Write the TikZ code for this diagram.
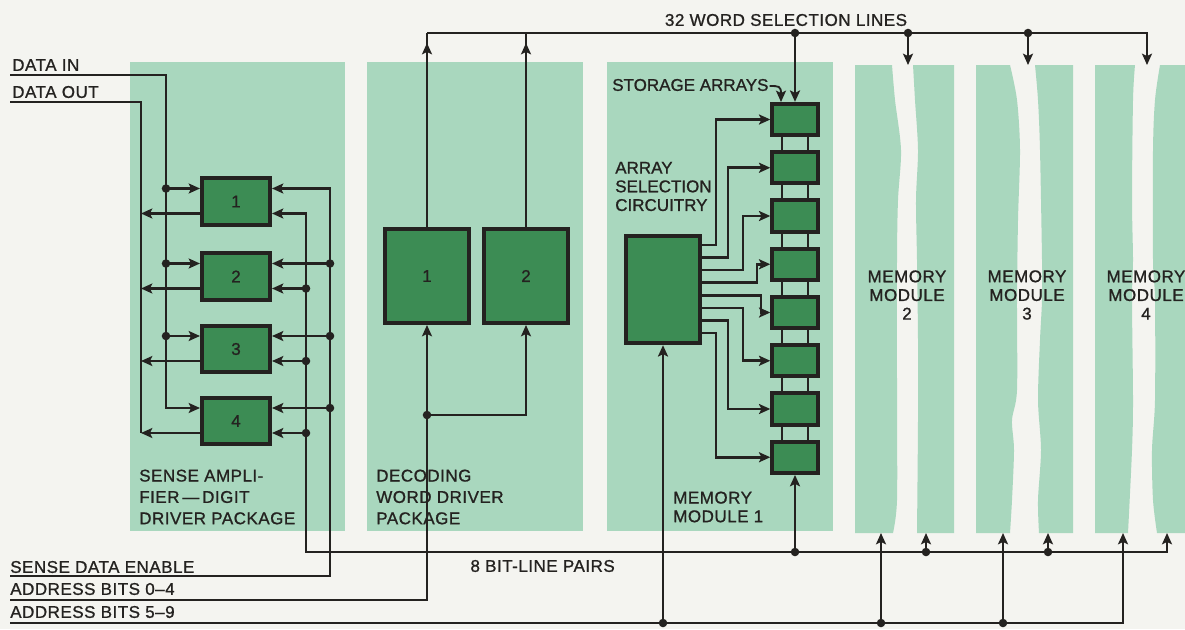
\documentclass[tikz,border=0pt]{standalone}
\usepackage{fontspec}
\setmainfont{Liberation Sans}[LetterSpace=3,FakeBold=1.0]
\usetikzlibrary{arrows.meta,calc}
\definecolor{bgc}{RGB}{244,244,240}
\definecolor{panel}{RGB}{169,215,190}
\definecolor{boxg}{RGB}{60,140,84}
\definecolor{ink}{RGB}{36,34,32}
\newcommand\lbfont{\fontsize{12.75}{14}\selectfont}
\newcommand\plfont{\fontsize{12.75}{16}\selectfont}
\newcommand\junc[1]{\fill[ink] (#1) circle (3.2pt);}
\tikzset{
  wire/.style={draw=ink,line width=2pt},
  blk/.style={draw=ink,fill=boxg,line width=3pt,inner sep=0pt,text=ink,font=\lbfont},
  sabox/.style={blk,minimum width=51pt,minimum height=35pt},
  dbox/.style={blk,minimum width=62.5pt,minimum height=70.5pt},
  ascbox/.style={blk,minimum width=55.5pt,minimum height=80.5pt},
  arbox/.style={blk,minimum width=34pt,minimum height=23.5pt},
  lbl/.style={text=ink,inner sep=0pt,font=\lbfont},
  mlbl/.style={lbl,align=left},
  plbl/.style={text=ink,inner sep=0pt,font=\plfont,align=left},
  clbl/.style={lbl,align=center},
}
\begin{document}
\begin{tikzpicture}[x=0.75pt,y=-0.75pt,>={Stealth[length=8.5pt,width=7.5pt,inset=1.8pt]}]
\useasboundingbox (0,0) rectangle (1185,629);
\fill[bgc] (0,0) rectangle (1185,629);
% panels
\fill[panel] (130,62) rectangle (345,531);
\fill[panel] (367,62) rectangle (583,531);
\fill[panel] (607,62) rectangle (833,531);
% memory modules 2-4 (broken)
\fill[panel] (855,65) -- plot[smooth] coordinates {(892,65) (895,100) (901,150) (898,200) (897,260) (897,400) (897,500) (893,533)} -- (855,533) -- cycle;
\fill[panel] (954,65) -- plot[smooth] coordinates {(913,65) (915,100) (918,150) (916,200) (917,260) (918,340) (918,420) (917,533)} -- (954,533) -- cycle;
\fill[panel] (976,65) -- plot[smooth] coordinates {(1010,65) (1017,100) (1020,150) (1018,220) (1017,300) (1017,390) (1012,420) (1014,450) (1012,500) (1010,533)} -- (976,533) -- cycle;
\fill[panel] (1073,65) -- plot[smooth] coordinates {(1035,65) (1038,100) (1040,150) (1042,260) (1042,300) (1040,340) (1038,400) (1041,450) (1038,500) (1039,533)} -- (1073,533) -- cycle;
\fill[panel] (1095,65) -- plot[smooth] coordinates {(1135,65) (1133,100) (1132,200) (1133,260) (1132,300) (1133,400) (1132,450) (1128,533)} -- (1095,533) -- cycle;
\fill[panel] (1185,65) -- plot[smooth] coordinates {(1160,65) (1155,100) (1153,150) (1153,260) (1155,300) (1155,400) (1152,450) (1153,500) (1157,533)} -- (1185,533) -- cycle;

% blocks
\foreach \i/\y in {1/201.5,2/276.5,3/349,4/421}{
  \node[sabox] (sa\i) at (236,\y) {\i};
}
\foreach \i in {1,...,4}{
  \coordinate (il\i) at ($(sa\i.west)+(0,-13)$);
  \coordinate (ol\i) at ($(sa\i.west)+(0,12)$);
  \coordinate (ir\i) at ($(sa\i.east)+(0,-13)$);
  \coordinate (jr\i) at ($(sa\i.east)+(0,12)$);
}
\node[dbox] (d1) at (427,276) {1};
\node[dbox] (d2) at (526,276) {2};
\node[ascbox] (asc) at (663,289.5) {};
\foreach \i in {1,...,8}{
  \node[arbox] (ar\i) at (795,{119.5+48.25*(\i-1)}) {};
}

% labels
\node[lbl,anchor=west] (tdin) at (12,65) {DATA IN};
\node[lbl,anchor=west] (tdout) at (12,92) {DATA OUT};
\node[lbl,anchor=west] (tsde) at (10,567) {SENSE DATA ENABLE};
\node[lbl,anchor=west] (ta04) at (10,589) {ADDRESS BITS 0--4};
\node[lbl,anchor=west] (ta59) at (10,612) {ADDRESS BITS 5--9};
\node[lbl] (tbus) at (786,20) {32 WORD SELECTION LINES};
\node[lbl,anchor=west,font=\lbfont\addfontfeature{LetterSpace=0}] (tsto) at (612,85) {STORAGE ARRAYS};
\node[mlbl,anchor=west,font=\lbfont\addfontfeature{LetterSpace=0}] (tasc) at (615,186.5) {ARRAY\\SELECTION\\CIRCUITRY};
\node[mlbl,anchor=west] (tmm1) at (673,507) {MEMORY\\MODULE 1};
\node[plbl,anchor=west] (tsa) at (139,497) {SENSE AMPLI-\\FIER\,---\,DIGIT\\DRIVER PACKAGE};
\node[plbl,anchor=west] (tdec) at (376,497) {DECODING\\WORD DRIVER\\PACKAGE};
\node[lbl,anchor=east] (tbl) at (615,566) {8 BIT-LINE PAIRS};
\node[clbl] (tm2) at (907,295) {MEMORY\\MODULE\\2};
\node[clbl] (tm3) at (1027,295) {MEMORY\\MODULE\\3};
\node[clbl] (tm4) at (1146,295) {MEMORY\\MODULE\\4};

% data in / data out
\coordinate (din) at (10,75);
\coordinate (dinc) at (166,75);
\coordinate (dout) at (10,102);
\coordinate (doutc) at (141,102);
\draw[wire,->] (din) -- (dinc) -- (dinc |- il4) -- (il4);
\foreach \i in {1,2,3}{
  \draw[wire,->] (dinc |- il\i) -- (il\i);
  \junc{dinc |- il\i}
}
\draw[wire] (dout) -- (doutc) -- (doutc |- ol4);
\foreach \i in {1,...,4}{
  \draw[wire,->] (ol\i) -- (doutc |- ol\i);
}

% sense data enable
\coordinate (sde) at (10,576);
\coordinate (sdec) at (330,576);
\draw[wire,->] (sde) -- (sdec) -- (sdec |- ir1) -- (ir1);
\foreach \i in {2,3,4}{
  \draw[wire,->] (sdec |- ir\i) -- (ir\i);
  \junc{sdec |- ir\i}
}

% bit-line pairs
\coordinate (blc) at (306,552);
\coordinate (ble) at (1167,552);
\coordinate (m4r) at (1167,533);
\draw[wire,<->] (jr1) -- (blc |- jr1) -- (blc) -- (ble) -- (m4r);
\foreach \i in {2,3,4}{
  \draw[wire,->] (blc |- jr\i) -- (jr\i);
  \junc{blc |- jr\i}
}
\coordinate (bl1) at (ar8.south |- blc);
\coordinate (bl2) at (926,552);
\coordinate (m2r) at (926,533);
\coordinate (bl3) at (1048,552);
\coordinate (m3r) at (1048,533);
\draw[wire,->] (bl1) -- (ar8.south);
\draw[wire,->] (bl2) -- (m2r);
\draw[wire,->] (bl3) -- (m3r);
\junc{bl1}\junc{bl2}\junc{bl3}

% address bits 0-4
\coordinate (a04) at (10,600);
\coordinate (a04c) at (d1.south |- a04);
\coordinate (dj) at (d1.south |- 0,415);
\draw[wire,->] (a04) -- (a04c) -- (d1.south);
\draw[wire,->] (dj) -- (dj -| d2.south) -- (d2.south);
\junc{dj}

% address bits 5-9
\coordinate (a59) at (10,623);
\coordinate (a59c) at (1123,623);
\coordinate (m4l) at (1123,533);
\draw[wire,->] (a59) -- (a59c) -- (m4l);
\coordinate (aj1) at (asc.south |- a59);
\coordinate (aj2) at (881,623);
\coordinate (m2l) at (881,533);
\coordinate (aj3) at (1003,623);
\coordinate (m3l) at (1003,533);
\draw[wire,->] (aj1) -- (asc.south);
\draw[wire,->] (aj2) -- (m2l);
\draw[wire,->] (aj3) -- (m3l);
\junc{aj1}\junc{aj2}\junc{aj3}

% word selection bus
\coordinate (busL) at (d1.north |- 0,33);
\coordinate (busR) at (1147,33);
\coordinate (m4t) at (1147,65);
\draw[wire,->] (busL) -- (busR) -- (m4t);
\draw[wire] (d1.north) -- (busL);
\draw[wire] (d2.north) -- (d2.north |- busL);
\draw[wire,->] (d1.north) -- (d1.north |- 0,43);
\draw[wire,->] (d2.north) -- (d2.north |- 0,43);
\coordinate (bj1) at (ar1.north |- busL);
\coordinate (bj2) at (908,33);
\coordinate (m2t) at (908,65);
\coordinate (bj3) at (1028,33);
\coordinate (m3t) at (1028,65);
\draw[wire,->] (bj1) -- (ar1.north);
\draw[wire,->] (bj2) -- (m2t);
\draw[wire,->] (bj3) -- (m3t);
\junc{bj1}\junc{bj2}\junc{bj3}

% array selection outputs
\foreach \k/\tx in {1/716,2/728,3/743,4/757,5/761,6/743,7/728,8/716}{
  \coordinate (ao\k) at ($(asc.east)+(0,{-44.5+12.57*(\k-1)})$);
  \coordinate (tx\k) at (\tx,0);
  \draw[wire,->] (ao\k) -- (ao\k -| tx\k) -- (tx\k |- ar\k.west) -- (ar\k.west);
}

% array interconnects
\foreach \i [count=\j from 2] in {1,...,7}{
  \draw[wire] ($(ar\i.south)+(-13,0)$) -- ($(ar\j.north)+(-13,0)$);
  \draw[wire] ($(ar\i.south)+(13,0)$) -- ($(ar\j.north)+(13,0)$);
}

% storage arrays pointer
\draw[wire,line width=1.4pt,->] ($(tsto.east)+(1,1)$) .. controls +(9,0) and (781,86) .. (781,102);
\end{tikzpicture}
\end{document}
